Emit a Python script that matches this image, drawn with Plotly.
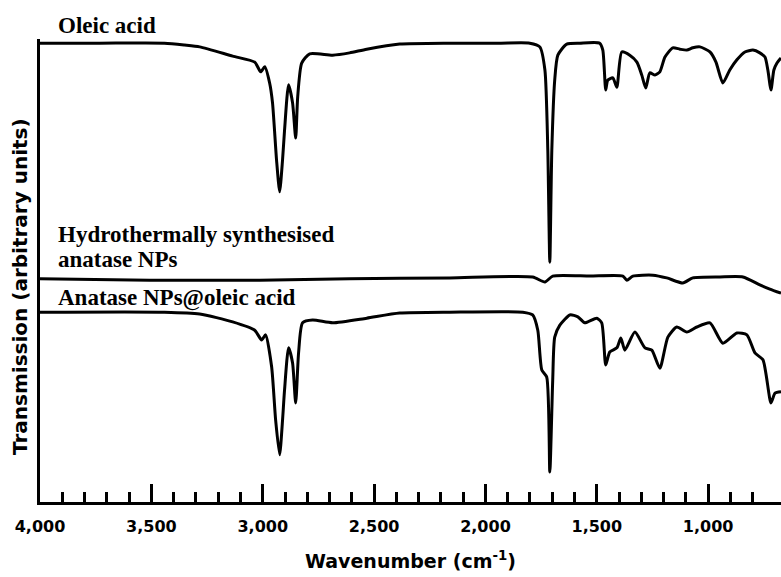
import plotly.graph_objects as go

# Wavenumbers (cm^-1) and transmission (arbitrary units)
oleic_wn = [4000, 3733, 3441, 3351, 3283, 3135, 3036, 3009, 2991, 2969, 2956, 2938, 2924, 2911, 2902,
            2884, 2866, 2852, 2843, 2825, 2789, 2686, 2610, 2533, 2385, 2160, 1936, 1801, 1756, 1733,
            1720, 1711, 1702, 1689, 1675, 1635, 1576, 1487, 1473, 1460, 1451, 1428, 1410, 1388, 1352,
            1320, 1298, 1280, 1262, 1239, 1217, 1194, 1159, 1127, 1096, 1069, 1037, 992, 965, 934,
            903, 871, 835, 799, 768, 745, 732, 718, 705, 691, 673]
oleic_t = [99.1, 99.1, 99.1, 98.7, 98.3, 96.3, 95.0, 92.9, 94.0, 90.5, 86.2, 73.9, 67.0, 73.9, 80.3,
           90.1, 86.2, 78.6, 87.5, 94.8, 96.8, 96.5, 97.0, 97.8, 98.9, 99.1, 99.1, 99.1, 98.3, 93.3,
           76.0, 51.8, 76.0, 91.1, 96.5, 98.9, 99.1, 99.1, 97.6, 89.0, 91.1, 91.6, 89.6, 97.2, 96.5,
           95.0, 92.2, 89.4, 92.7, 92.2, 92.9, 96.1, 98.1, 97.8, 97.6, 98.1, 98.3, 97.2, 95.0, 90.5,
           93.3, 95.5, 97.2, 97.6, 97.0, 96.1, 93.3, 89.0, 93.3, 94.8, 95.9]

hydro_wn = [4000, 3508, 3014, 2610, 2160, 1788, 1733, 1698, 1531, 1383, 1365, 1338, 1248, 1186, 1114,
            1069, 947, 844, 768, 723, 673]
hydro_t = [48.2, 47.9, 47.9, 48.2, 48.4, 48.6, 47.5, 48.8, 48.8, 48.8, 47.9, 48.8, 49.0, 48.4, 47.3,
           48.4, 48.6, 48.6, 46.9, 46.0, 45.1]

coated_wn = [4000, 3441, 3283, 3135, 3036, 3005, 2987, 2960, 2942, 2924, 2911, 2902, 2884, 2866, 2852,
             2839, 2821, 2776, 2686, 2533, 2385, 2160, 1832, 1788, 1765, 1747, 1725, 1711, 1698, 1689,
             1666, 1621, 1585, 1554, 1500, 1478, 1460, 1442, 1410, 1392, 1374, 1329, 1284, 1253, 1217,
             1181, 1141, 1096, 1051, 992, 934, 871, 826, 790, 754, 718, 700, 673]
coated_t = [41.0, 41.0, 40.6, 38.9, 37.1, 35.0, 36.1, 29.2, 17.7, 10.2, 17.7, 24.2, 33.3, 30.0, 21.4,
            32.2, 38.7, 39.3, 38.7, 39.7, 40.8, 41.0, 41.0, 40.4, 37.1, 28.5, 27.0, 6.5, 26.3, 35.6,
            38.2, 40.4, 40.0, 38.7, 39.7, 38.7, 29.6, 32.4, 33.3, 35.4, 32.8, 36.7, 33.3, 32.8, 28.9,
            35.6, 37.8, 36.7, 37.8, 38.7, 34.3, 36.5, 36.1, 32.2, 30.7, 21.4, 23.5, 23.8]

major_ticks = [4000, 3500, 3000, 2500, 2000, 1500, 1000]
major_labels = ["4,000", "3,500", "3,000", "2,500", "2,000", "1,500", "1,000"]
minor_ticks = [3900, 3800, 3700, 3600, 3400, 3300, 3200, 3100, 2900, 2800, 2700, 2600,
               2400, 2300, 2200, 2100, 1900, 1800, 1700, 1600, 1400, 1300, 1200, 1100, 900, 800]

fig = go.Figure()
for wn, t in [(oleic_wn, oleic_t), (hydro_wn, hydro_t), (coated_wn, coated_t)]:
    fig.add_trace(go.Scatter(x=wn, y=t, mode="lines",
                             line=dict(color="black", width=3, shape="spline", smoothing=0.6),
                             showlegend=False, hoverinfo="skip"))

W, H = 781, 577
L, R, T, B = 40, 0, 39, 75
pw, ph = W - L - R, H - T - B

def px(x):
    return (x - L) / pw

def py(y):
    return (H - B - y) / ph

serif = dict(family="Liberation Serif", size=23, color="black")
labels = [("Oleic acid", 56, 25), ("Hydrothermally synthesised", 56, 234),
          ("anatase NPs", 56, 259), ("Anatase NPs@oleic acid", 56, 298)]
annotations = []
for txt, x, y in labels:
    annotations.append(dict(text="<b>%s</b>" % txt, x=px(x), y=py(y), xref="paper", yref="paper",
                            xanchor="left", yanchor="middle", showarrow=False, font=serif))

annotations.append(dict(text="<b>Wavenumber (cm<sup>-1</sup>)</b>", x=px(410), y=py(560),
                        xref="paper", yref="paper", xanchor="center", yanchor="middle",
                        showarrow=False, font=dict(family="DejaVu Sans", size=19, color="black")))
annotations.append(dict(text="<b>Transmission (arbitrary units)</b>", x=px(20), y=py(287),
                        xref="paper", yref="paper", xanchor="center", yanchor="middle",
                        textangle=-90, showarrow=False,
                        font=dict(family="DejaVu Sans", size=20, color="black")))

fig.update_layout(
    width=W, height=H,
    margin=dict(l=L, r=R, t=T, b=B),
    paper_bgcolor="white", plot_bgcolor="white",
    annotations=annotations,
    xaxis=dict(range=[4000, 673], autorange=False, showgrid=False, zeroline=False,
               showline=True, linecolor="black", linewidth=3,
               ticks="inside", ticklen=18, tickwidth=3, tickcolor="black",
               tickvals=major_ticks, ticktext=["<b>%s</b>" % s for s in major_labels],
               tickfont=dict(family="DejaVu Sans", size=16, color="black"),
               ticklabelstandoff=8,
               minor=dict(tickvals=minor_ticks, ticks="inside", ticklen=10, tickwidth=3,
                          tickcolor="black", showgrid=False)),
    yaxis=dict(range=[0, 100], autorange=False, showgrid=False, zeroline=False,
               showline=True, linecolor="black", linewidth=3, showticklabels=False, ticks=""),
)

fig.write_html("out.html")
